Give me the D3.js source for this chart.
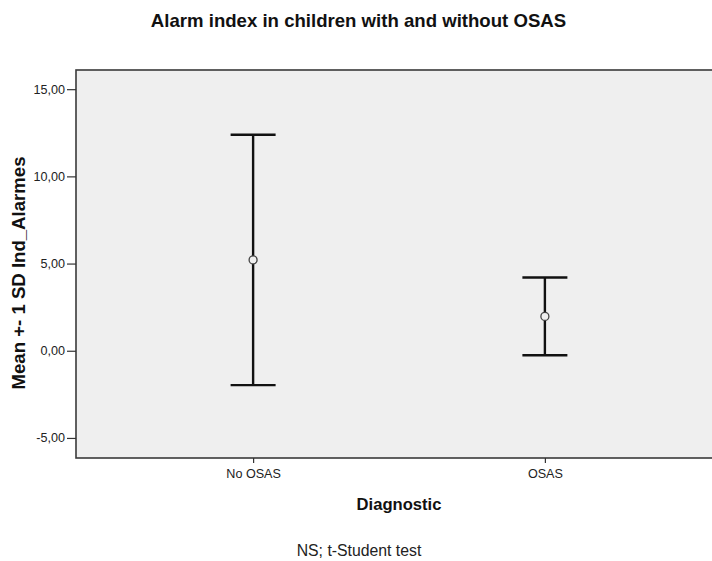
<!DOCTYPE html>
<html>
<head>
<meta charset="utf-8">
<script src="https://cdn.jsdelivr.net/npm/d3@7"></script>
<style>
  html, body { margin: 0; padding: 0; background: #ffffff; }
  svg { display: block; font-family: "Liberation Sans", Arial, sans-serif; }
</style>
</head>
<body>
<svg id="chart" width="712" height="561"></svg>
<script>
// Group summary: mean and standard deviation of the alarm index
const categories = ["No OSAS", "OSAS"];
const means = [5.21, 1.97];
const sds = [7.18, 2.23];
const yTicks = [-5, 0, 5, 10, 15];

const svg = d3.select("#chart");
const margin = { left: 76, top: 70, bottom: 458, right: 722 };

const x = d3.scalePoint()
  .domain(categories)
  .range([margin.left, margin.right])
  .padding(0.607);

const y = d3.scaleLinear()
  .domain([-6.15, 16.1])
  .range([margin.bottom, margin.top]);

// Plot area
svg.append("rect")
  .attr("x", margin.left)
  .attr("y", margin.top)
  .attr("width", margin.right - margin.left)
  .attr("height", margin.bottom - margin.top)
  .attr("fill", "#efefef")
  .attr("stroke", "#3a3a3a")
  .attr("stroke-width", 1.6);

// Comma decimal separator, plain hyphen for negatives
const fmt = v => v.toFixed(2).replace(".", ",");

// Y axis
const yAxis = svg.append("g")
  .attr("transform", `translate(${margin.left},0)`)
  .call(d3.axisLeft(y).tickValues(yTicks).tickSize(9).tickPadding(2).tickFormat(fmt));
yAxis.select(".domain").remove();
yAxis.selectAll(".tick line").attr("stroke", "#333").attr("stroke-width", 1.2);
yAxis.selectAll(".tick text")
  .attr("fill", "#222")
  .style("font-size", "12.6px")
  .style("font-family", "Liberation Sans, Arial, sans-serif");

// X axis
const xAxis = svg.append("g")
  .attr("transform", `translate(0,${margin.bottom})`)
  .call(d3.axisBottom(x).tickSize(5).tickPadding(6));
xAxis.select(".domain").remove();
xAxis.selectAll(".tick line").attr("stroke", "#333").attr("stroke-width", 1.2);
xAxis.selectAll(".tick text")
  .attr("fill", "#222")
  .style("font-size", "12.6px")
  .style("font-family", "Liberation Sans, Arial, sans-serif");

// Error bars: mean +- 1 SD
const capHalf = 22.5;
const bars = svg.append("g").selectAll("g")
  .data(categories.map((c, i) => ({ c, m: means[i], s: sds[i] })))
  .join("g");

bars.append("line")
  .attr("x1", d => x(d.c)).attr("x2", d => x(d.c))
  .attr("y1", d => y(d.m + d.s)).attr("y2", d => y(d.m - d.s))
  .attr("stroke", "#111").attr("stroke-width", 2.4);

bars.append("line")
  .attr("x1", d => x(d.c) - capHalf).attr("x2", d => x(d.c) + capHalf)
  .attr("y1", d => y(d.m + d.s)).attr("y2", d => y(d.m + d.s))
  .attr("stroke", "#111").attr("stroke-width", 2.4);

bars.append("line")
  .attr("x1", d => x(d.c) - capHalf).attr("x2", d => x(d.c) + capHalf)
  .attr("y1", d => y(d.m - d.s)).attr("y2", d => y(d.m - d.s))
  .attr("stroke", "#111").attr("stroke-width", 2.4);

bars.append("circle")
  .attr("cx", d => x(d.c)).attr("cy", d => y(d.m))
  .attr("r", 4)
  .attr("fill", "#efefef")
  .attr("stroke", "#444").attr("stroke-width", 1.3);

// Titles
svg.append("text")
  .attr("x", 358.5).attr("y", 27)
  .attr("text-anchor", "middle")
  .style("font-size", "18.6px").style("font-weight", "bold")
  .attr("fill", "#111")
  .text("Alarm index in children with and without OSAS");

svg.append("text")
  .attr("transform", "translate(25,273) rotate(-90)")
  .attr("text-anchor", "middle")
  .style("font-size", "18.6px").style("font-weight", "bold")
  .attr("fill", "#111")
  .text("Mean +- 1 SD Ind_Alarmes");

svg.append("text")
  .attr("x", 399).attr("y", 510)
  .attr("text-anchor", "middle")
  .style("font-size", "16.6px").style("font-weight", "bold")
  .attr("fill", "#111")
  .text("Diagnostic");

svg.append("text")
  .attr("x", 359).attr("y", 555.5)
  .attr("text-anchor", "middle")
  .style("font-size", "15.8px")
  .attr("fill", "#222")
  .text("NS; t-Student test");
</script>
</body>
</html>
